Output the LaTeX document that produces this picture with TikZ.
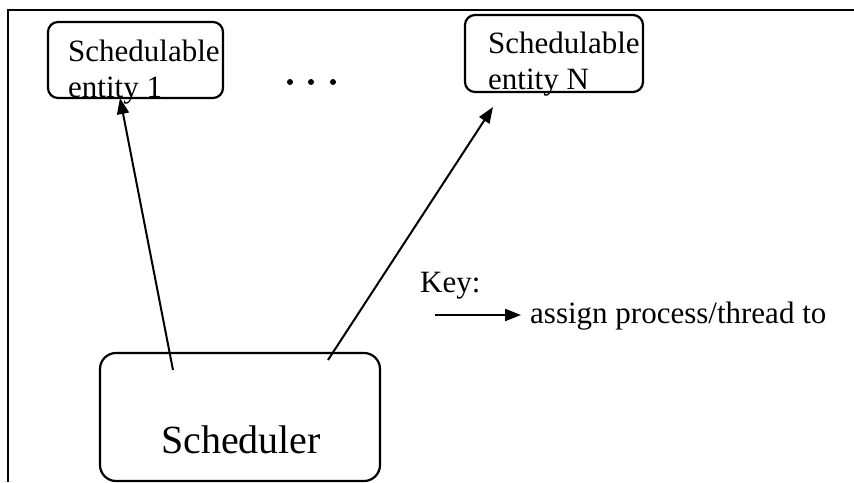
\documentclass[tikz,border=0pt]{standalone}
\usepackage{fontspec}
\setmainfont{Liberation Serif}
\usetikzlibrary{arrows.meta}
\begin{document}
\begin{tikzpicture}[x=1pt,y=-1pt,
  boxshape/.style={draw,line width=2.2pt,rounded corners=10pt},
  small/.style={font=\fontsize{31}{36}\selectfont,inner sep=0pt,anchor=base west},
  assign/.style={line width=2pt,-{Triangle[length=16pt,width=12pt]}}]
\useasboundingbox (0,0) rectangle (854,482);
\draw[line width=2.4pt] (8,482) -- (8,10) -- (854,10);
% boxes
\draw[boxshape] (48,22) rectangle (223,98);
\node (e1) at (135.5,60) {};
\draw[boxshape] (465,15) rectangle (643,92);
\node (eN) at (554,53.5) {};
\draw[boxshape,rounded corners=16pt] (100,353) rectangle (380,481);
\node (s) at (240,417) {};
% texts
\node[small] (t1a) at (68,61) {Schedulable};
\node[small] (t1b) at (68,97) {entity 1};
\node[small] (tNa) at (488,53) {Schedulable};
\node[small] (tNb) at (488,89) {entity N};
\node[font=\fontsize{40}{48}\selectfont,inner sep=0pt,anchor=base] (st) at (241,453) {Scheduler};
\node[small] (key) at (420,292) {Key:};
\node[small] (keytxt) at (530,323) {assign process/thread to};
% dots
\fill (290,82) circle (3pt) (311,82) circle (3pt) (333,82) circle (3pt);
% arrows
\coordinate (a1s) at (173,370);
\coordinate (a1e) at (120,98);
\coordinate (a2s) at (328,360);
\coordinate (a2e) at (493,107);
\coordinate (k1) at (435,315);
\coordinate (k2) at (521,315);
\draw[assign] (a1s) -- (a1e);
\draw[assign] (a2s) -- (a2e);
\draw[assign] (k1) -- (k2);
\end{tikzpicture}
\end{document}
